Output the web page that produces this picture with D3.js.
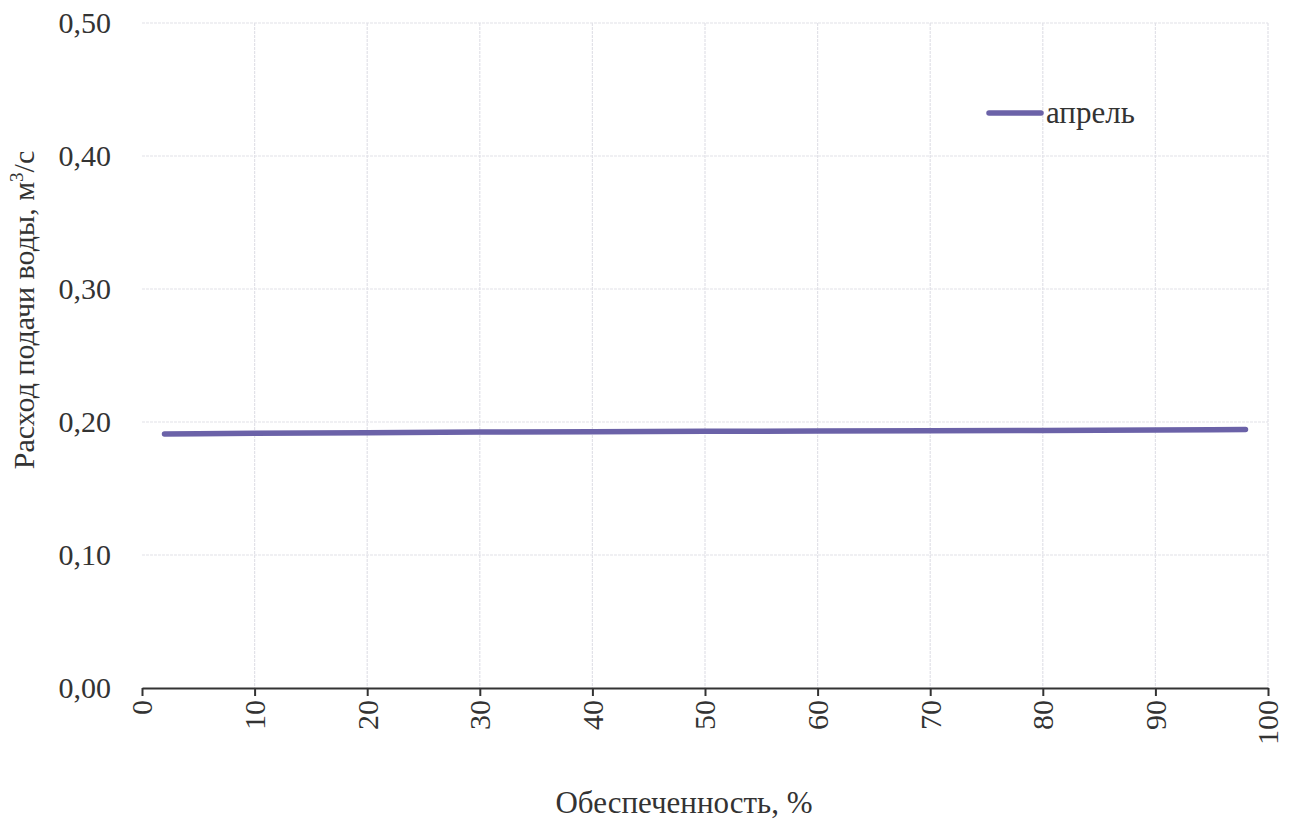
<!DOCTYPE html>
<html><head><meta charset="utf-8">
<script src="https://cdn.jsdelivr.net/npm/d3@7"></script>
<style>body{margin:0;background:#fff}svg{display:block}</style>
</head><body><svg id="c" width="1294" height="824"></svg>
<script>
const probability = [2, 5, 10, 20, 30, 40, 50, 60, 70, 80, 90, 95, 98];
const april = [0.191, 0.1912, 0.1915, 0.192, 0.1924, 0.1927, 0.193, 0.1932, 0.1935, 0.1937, 0.194, 0.1942, 0.1943];
const seriesName = "апрель";
const xTicks = [0,10,20,30,40,50,60,70,80,90,100];
const yTicks = [0,0.1,0.2,0.3,0.4,0.5];
const xTitle = "Обеспеченность, %";

const FONT = '"Liberation Serif", "Times New Roman", serif';
const svg = d3.select("#c");
const L=142, R=1268, T=23, B=688;
const x = d3.scaleLinear().domain([0,100]).range([L,R]);
const y = d3.scaleLinear().domain([0,0.5]).range([B,T]);
const fmt = d => d.toFixed(2).replace(".", ",");

// grid
svg.append("g").selectAll("line").data(xTicks.slice(1)).join("line")
  .attr("x1",d=>x(d)).attr("x2",d=>x(d)).attr("y1",T).attr("y2",B)
  .attr("stroke","#e2e2e8").attr("stroke-width",1.2).attr("stroke-dasharray","3,1");
svg.append("g").selectAll("line").data(yTicks.slice(1)).join("line")
  .attr("x1",L).attr("x2",R).attr("y1",d=>y(d)).attr("y2",d=>y(d))
  .attr("stroke","#e2e2e8").attr("stroke-width",1.2).attr("stroke-dasharray","3,1");

// x axis
const xa = svg.append("g").attr("transform",`translate(0,${B})`)
  .call(d3.axisBottom(x).tickValues(xTicks).tickSize(8).tickSizeOuter(0).tickFormat(d=>d));
xa.select(".domain").attr("stroke","#333").attr("stroke-width",2);
xa.selectAll(".tick line").attr("stroke","#333").attr("stroke-width",2);
xa.selectAll(".tick text").style("font-family",FONT).style("font-size","30px")
  .attr("fill","#333")
  .attr("transform","rotate(-90)").attr("text-anchor","end").attr("x",-12).attr("y",0).attr("dy","0.33em");

// y labels
svg.append("g").selectAll("text").data(yTicks).join("text")
  .attr("x",111).attr("y",d=>y(d)).attr("dy","0.33em").attr("text-anchor","end").attr("fill","#333")
  .style("font-family",FONT).style("font-size","30px").text(fmt);

// line
svg.append("path").datum(probability.map((p,i)=>[p,april[i]]))
  .attr("fill","none").attr("stroke","#6b62a8").attr("stroke-width",5.5).attr("stroke-linecap","round")
  .attr("d", d3.line().x(d=>x(d[0])).y(d=>y(d[1])));

// legend
svg.append("line").attr("x1",989).attr("x2",1041).attr("y1",113).attr("y2",113)
  .attr("stroke","#6b62a8").attr("stroke-width",5.5).attr("stroke-linecap","round");
svg.append("text").attr("x",1046).attr("y",113).attr("dy","0.33em").attr("fill","#333")
  .style("font-family",FONT).style("font-size","31px").text(seriesName);

// titles
svg.append("text").attr("x",684).attr("y",813).attr("text-anchor","middle").attr("fill","#333")
  .style("font-family",FONT).style("font-size","31px").text(xTitle);
const yt = svg.append("text").attr("transform","translate(34,310) rotate(-90)").attr("text-anchor","middle")
  .attr("fill","#333").style("font-family",FONT).style("font-size","30px");
yt.append("tspan").text("Расход подачи воды, м");
yt.append("tspan").attr("dy",-11).style("font-size","19px").text("3");
yt.append("tspan").attr("dy",11).text("/с");
</script></body></html>
